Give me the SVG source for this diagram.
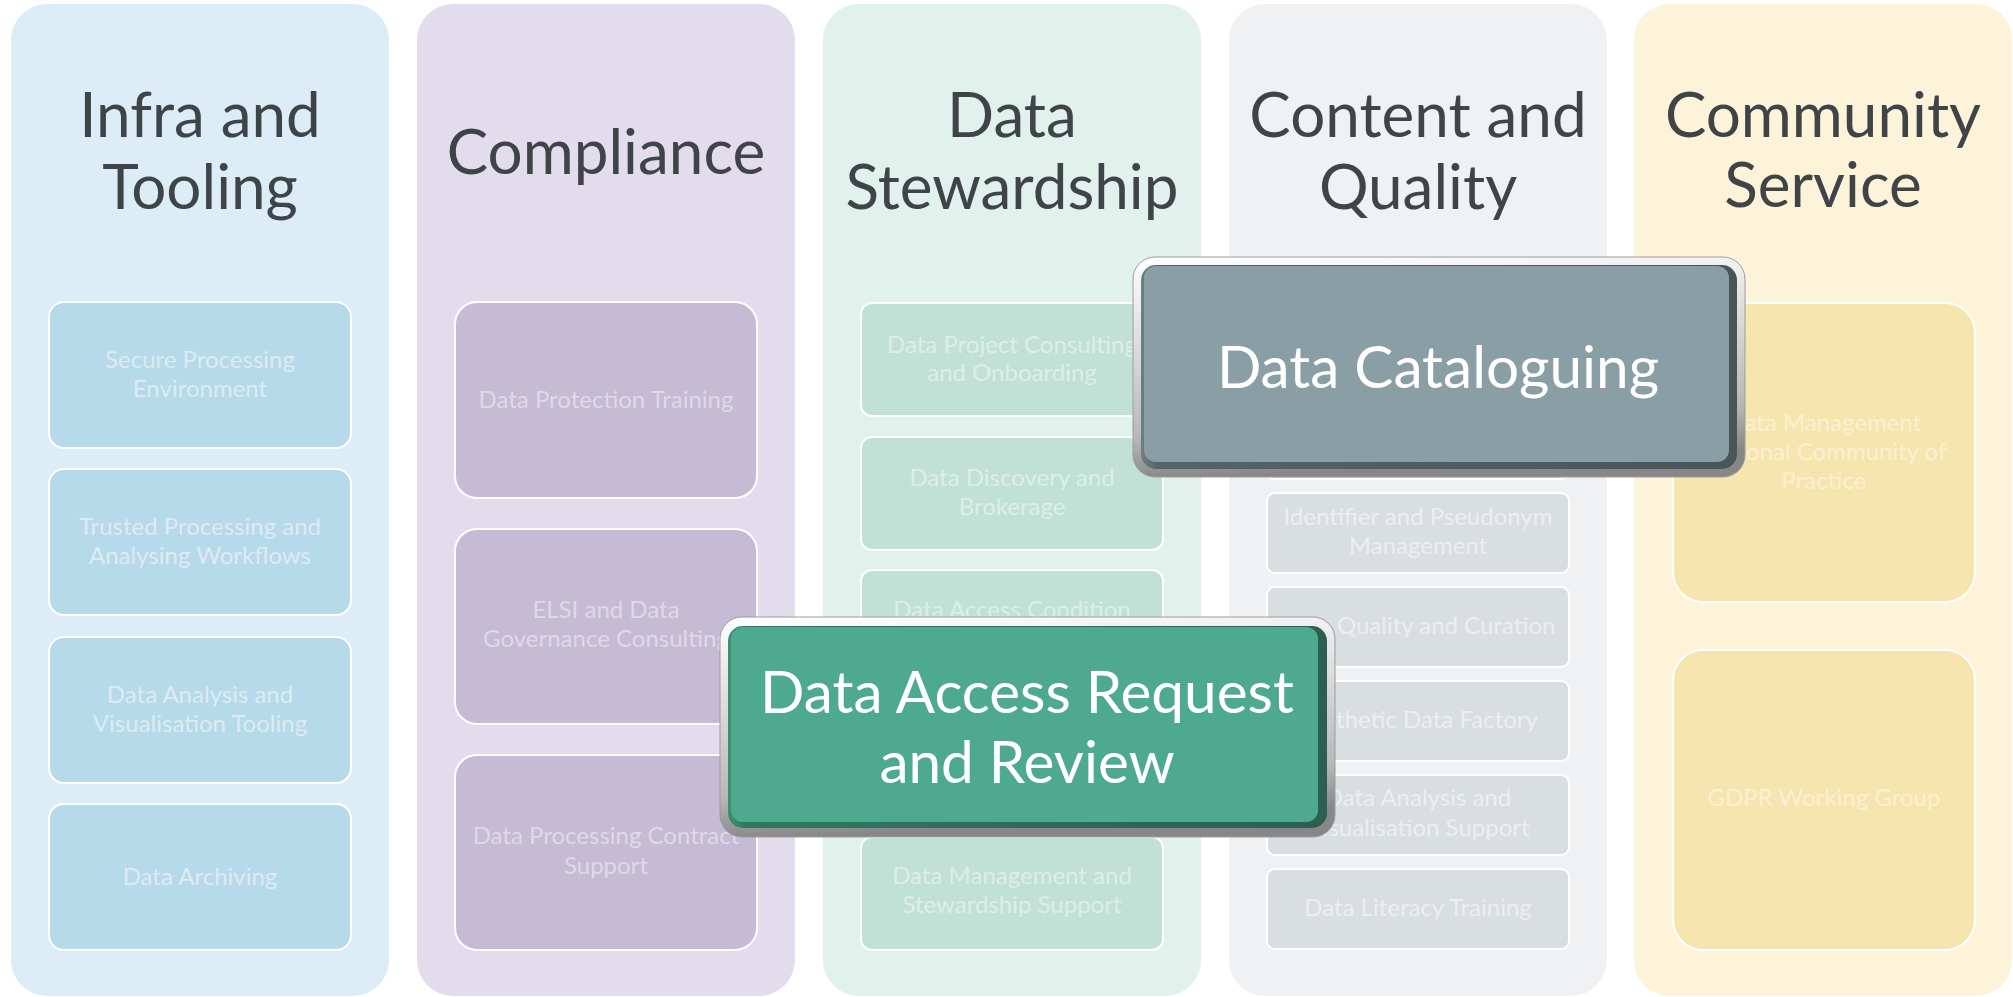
<svg xmlns="http://www.w3.org/2000/svg" width="2013" height="997" viewBox="0 0 2013 997">
<style>
.title{font-family:Lato,"Liberation Sans",sans-serif;font-size:62px;fill:#3F4449;text-anchor:middle}
.item{font-family:Lato,"Liberation Sans",sans-serif;font-size:24px;text-anchor:middle}
.box{stroke:#FFFFFF;stroke-width:2}
.hl{font-family:Lato,"Liberation Sans",sans-serif;font-size:58.5px;fill:#FFFFFF;text-anchor:middle}
.frame{fill:url(#frame);stroke:#9C9C9C;stroke-width:1}
.t1{fill:#DCEBF4}.b1{fill:#B6DAE9}
.t2{fill:#DFD9E8}.b2{fill:#C5BBD4}
.t3{fill:#DDEEE8}.b3{fill:#C1E1D7}
.t4{fill:#ECEEF0}.b4{fill:#D9DEE1}
.t5{fill:#FBF0D3}.b5{fill:#F7E5AF}
</style>
<defs>
<linearGradient id="frame" x1="0" y1="0" x2="0.15" y2="1">
<stop offset="0" stop-color="#FFFFFF"/>
<stop offset="0.2" stop-color="#EDEDED"/>
<stop offset="0.8" stop-color="#B8B8B8"/>
<stop offset="1" stop-color="#878787"/>
</linearGradient>
<linearGradient id="darkGrey" x1="0" y1="0" x2="1" y2="0">
<stop offset="0" stop-color="#6E7F87"/>
<stop offset="0.03" stop-color="#55636A"/>
<stop offset="1" stop-color="#4A555A"/>
</linearGradient>
<linearGradient id="darkGreen" x1="0" y1="0" x2="1" y2="0">
<stop offset="0" stop-color="#3F8F77"/>
<stop offset="0.03" stop-color="#357560"/>
<stop offset="1" stop-color="#2D5F51"/>
</linearGradient>
</defs>

<g id="columns">
<g id="col-infra"><rect x="11" y="4" width="378" height="992" rx="36" fill="#DCEDF7"/><text class="title" x="200" y="137">Infra and</text><text class="title" x="200" y="209">Tooling</text></g>
<g id="col-compliance"><rect x="417" y="4" width="378" height="992" rx="36" fill="#E2DCEC"/><text class="title" x="606" y="174">Compliance</text></g>
<g id="col-stewardship"><rect x="823" y="4" width="378" height="992" rx="36" fill="#E1F1EC"/><text class="title" x="1012" y="137">Data</text><text class="title" x="1012" y="209">Stewardship</text></g>
<g id="col-content"><rect x="1229" y="4" width="378" height="992" rx="36" fill="#F0F1F3"/><text class="title" x="1418" y="137">Content and</text><text class="title" x="1418" y="209">Quality</text></g>
<g id="col-community"><rect x="1634" y="4" width="378" height="992" rx="36" fill="#FDF3D9"/><text class="title" x="1823" y="137">Community</text><text class="title" x="1823" y="207">Service</text></g>
</g>

<g id="infra-items">
<g id="secure-processing"><rect class="box b1" x="49" y="302" width="302" height="146" rx="15"/><text class="item t1" x="200" y="368">Secure Processing</text><text class="item t1" x="200" y="397">Environment</text></g>
<g id="trusted-processing"><rect class="box b1" x="49" y="469" width="302" height="146" rx="15"/><text class="item t1" x="200" y="535">Trusted Processing and</text><text class="item t1" x="200" y="564">Analysing Workflows</text></g>
<g id="analysis-tooling"><rect class="box b1" x="49" y="637" width="302" height="146" rx="15"/><text class="item t1" x="200" y="703">Data Analysis and</text><text class="item t1" x="200" y="732">Visualisation Tooling</text></g>
<g id="data-archiving"><rect class="box b1" x="49" y="804" width="302" height="146" rx="15"/><text class="item t1" x="200" y="885">Data Archiving</text></g>
</g>

<g id="compliance-items">
<g id="data-protection-training"><rect class="box b2" x="455" y="302" width="302" height="196" rx="22"/><text class="item t2" x="606" y="408">Data Protection Training</text></g>
<g id="elsi-consulting"><rect class="box b2" x="455" y="529" width="302" height="195" rx="22"/><text class="item t2" x="606" y="618">ELSI and Data</text><text class="item t2" x="606" y="647">Governance Consulting</text></g>
<g id="contract-support"><rect class="box b2" x="455" y="755" width="302" height="195" rx="22"/><text class="item t2" x="606" y="844">Data Processing Contract</text><text class="item t2" x="606" y="874">Support</text></g>
</g>

<g id="stewardship-items">
<g id="project-consulting"><rect class="box b3" x="861" y="303" width="302" height="113" rx="11"/><text class="item t3" x="1012" y="353">Data Project Consulting</text><text class="item t3" x="1012" y="381">and Onboarding</text></g>
<g id="discovery-brokerage"><rect class="box b3" x="861" y="437" width="302" height="113" rx="11"/><text class="item t3" x="1012" y="486">Data Discovery and</text><text class="item t3" x="1012" y="515">Brokerage</text></g>
<g id="access-condition"><rect class="box b3" x="861" y="570" width="302" height="113" rx="11"/><text class="item t3" x="1012" y="618">Data Access Condition</text></g>
<g id="stewardship-hidden"><rect class="box b3" x="861" y="704" width="302" height="113" rx="11"/></g>
<g id="management-support"><rect class="box b3" x="861" y="837" width="302" height="113" rx="11"/><text class="item t3" x="1012" y="884">Data Management and</text><text class="item t3" x="1012" y="913">Stewardship Support</text></g>
</g>

<g id="content-items">
<g id="content-hidden-1"><rect class="box b4" x="1267" y="305" width="302" height="80" rx="8"/></g>
<g id="content-hidden-2"><rect class="box b4" x="1267" y="399" width="302" height="80" rx="8"/></g>
<g id="identifier-pseudonym"><rect class="box b4" x="1267" y="493" width="302" height="80" rx="8"/><text class="item t4" x="1418" y="525">Identifier and Pseudonym</text><text class="item t4" x="1418" y="554">Management</text></g>
<g id="quality-curation"><rect class="box b4" x="1267" y="587" width="302" height="80" rx="8"/><text class="item t4" x="1418" y="634">Data Quality and Curation</text></g>
<g id="synthetic-data"><rect class="box b4" x="1267" y="681" width="302" height="80" rx="8"/><text class="item t4" x="1418" y="728">Synthetic Data Factory</text></g>
<g id="analysis-support"><rect class="box b4" x="1267" y="775" width="302" height="80" rx="8"/><text class="item t4" x="1418" y="806">Data Analysis and</text><text class="item t4" x="1418" y="836">Visualisation Support</text></g>
<g id="data-literacy"><rect class="box b4" x="1267" y="869" width="302" height="80" rx="8"/><text class="item t4" x="1418" y="916">Data Literacy Training</text></g>
</g>

<g id="community-items">
<g id="community-of-practice"><rect class="box b5" x="1673" y="303" width="302" height="299" rx="30"/><text class="item t5" x="1824" y="431">Data Management</text><text class="item t5" x="1824" y="460">National Community of</text><text class="item t5" x="1824" y="489">Practice</text></g>
<g id="gdpr-working-group"><rect class="box b5" x="1673" y="650" width="302" height="300" rx="30"/><text class="item t5" x="1824" y="806">GDPR Working Group</text></g>
</g>

<g id="connectors"></g>

<g id="data-cataloguing">
<rect class="frame" x="1133" y="257" width="612" height="220" rx="22"/>
<rect x="1141" y="265" width="596" height="204" rx="15" fill="url(#darkGrey)"/>
<rect x="1144" y="266" width="585" height="196" rx="12" fill="#8A9EA6"/>
<text class="hl" x="1438" y="388">Data Cataloguing</text>
</g>

<g id="data-access-request">
<rect class="frame" x="720" y="617" width="615" height="220" rx="22"/>
<rect x="728" y="626" width="599" height="202" rx="15" fill="url(#darkGreen)"/>
<rect x="731" y="627" width="587" height="195" rx="12" fill="#4EAA8F"/>
<text class="hl" x="1027" y="713">Data Access Request</text>
<text class="hl" x="1027" y="783">and Review</text>
</g>
</svg>
